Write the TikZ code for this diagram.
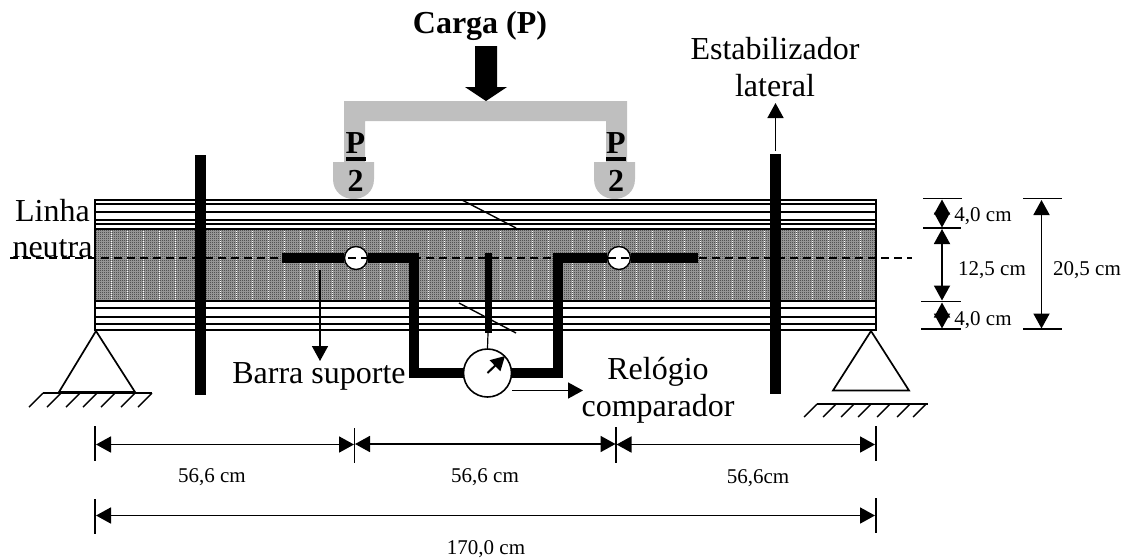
\documentclass[tikz,border=0pt]{standalone}
\usepackage{fontspec}
\setmainfont{Liberation Serif}
\usetikzlibrary{arrows.meta,patterns}
\pgfdeclarepatternformonly{checker}{\pgfqpoint{0pt}{0pt}}{\pgfqpoint{2pt}{2pt}}{\pgfqpoint{2pt}{2pt}}{%
  \pgfpathrectangle{\pgfqpoint{0pt}{0pt}}{\pgfqpoint{1pt}{1pt}}%
  \pgfpathrectangle{\pgfqpoint{1pt}{1pt}}{\pgfqpoint{1pt}{1pt}}%
  \pgfusepath{fill}}
\definecolor{loadgray}{gray}{0.75}
\tikzset{
  big/.style={font=\fontsize{32}{32}\selectfont,inner sep=0pt,anchor=base},
  small/.style={font=\fontsize{21}{21}\selectfont,inner sep=0pt,anchor=base},
  boldlab/.style={font=\fontsize{32}{32}\selectfont\bfseries,inner sep=0pt,anchor=base},
  barline/.style={line width=10.5pt,black,miter limit=10},
  beamline/.style={line width=2pt},
  layerline/.style={line width=1.3pt},
  thinline/.style={line width=1.4pt},
  dimline/.style={line width=1.8pt,{Triangle[length=15pt,width=16pt]}-{Triangle[length=15pt,width=16pt]}},
  arrowline/.style={line width=1.6pt,-{Triangle[length=15pt,width=16pt]}},
  ticks/.style={line width=1.5pt},
  hatchline/.style={line width=1.4pt},
  pivot/.style={circle,draw=black,fill=white,line width=1.4pt,minimum size=23pt,inner sep=0pt},
  loadfill/.style={fill=loadgray,draw=none}
}
\begin{document}
\begin{tikzpicture}[x=1pt,y=-1pt]
\useasboundingbox (0,0) rectangle (1129,558);
% load frame
\fill[loadfill] (344,101) -- (627,101) -- (627,162) -- (606,162) -- (606,121) -- (365,121) -- (365,162) -- (344,162) -- cycle;
\fill[loadfill] (333,162) -- (374,162) -- (374,179) .. controls (374,192) and (364,199) .. (353.5,199) .. controls (343,199) and (333,192) .. (333,179) -- cycle;
\fill[loadfill] (594,162) -- (635,162) -- (635,179) .. controls (635,192) and (625,199) .. (614.5,199) .. controls (604,199) and (594,192) .. (594,179) -- cycle;
\fill (475,46) -- (497,46) -- (497,87) -- (507,87) -- (486,101) -- (465,87) -- (475,87) -- cycle;
\node[boldlab] (carga) at (480,33) {Carga (P)};
\node[boldlab] (p1) at (355.5,153) {P};
\node[boldlab] (d1) at (355.5,191) {2};
\node[boldlab] (p2) at (616,153) {P};
\node[boldlab] (d2) at (616,191) {2};
\fill (346,157) rectangle (366,161);
\fill (606,157) rectangle (626,161);
% beam
\fill[white] (95,200) rectangle (876,330);
\foreach \y in {204,212,220,224,308,317,324}
  \draw[layerline] (95,\y) -- (876,\y);
\fill[gray!70] (95,229) rectangle (876,301);
\fill[pattern=checker,pattern color=black!85] (95,229) rectangle (876,301);
\foreach \x in {111,127,143,159,175,220,236,252,268,284,300,316,332,348,364,380,396,428,444,460,476,500,516,532,548,572,588,604,620,636,652,668,684,700,716,732,748,764,796,812,828,844,860}
  \draw[white,line width=1pt,dash pattern=on 1pt off 1pt] (\x,229) -- (\x,301);
\draw[beamline] (95,229) -- (876,229);
\draw[beamline] (95,301) -- (876,301);
\draw[beamline] (95,200) rectangle (876,330);
\draw[thinline] (462,200) -- (516,228);
% vertical stabilisers
\coordinate (sl1) at (200.5,155); \coordinate (sl2) at (200.5,395);
\coordinate (sr1) at (775.5,154); \coordinate (sr2) at (775.5,394);
\draw[barline] (sl1) -- (sl2);
\draw[barline] (sr1) -- (sr2);
% gauge and pivots
\node[pivot] (pl) at (356,258) {};
\node[pivot] (pr) at (619,258) {};
\node[circle,draw=black,fill=white,line width=1.6pt,minimum size=48pt,inner sep=0pt] (gauge) at (487.5,373) {};
% support bar
\coordinate (bl) at (282,258); \coordinate (cl) at (414,258); \coordinate (dl) at (414,373);
\coordinate (br) at (698,258); \coordinate (cr) at (558,258); \coordinate (dr) at (558,373);
\draw[barline] (bl) -- (pl.west);
\draw[barline] (pl.east) -- (cl) -- (dl) -- (gauge.west);
\draw[barline] (br) -- (pr.east);
\draw[barline] (pr.west) -- (cr) -- (dr) -- (gauge.east);
% centre rod
\coordinate (rt) at (488,253); \coordinate (rb) at (488,333);
\draw[line width=7pt] (rt) -- (rb);
\draw[line width=1.2pt] (rb) -- (gauge.north);
\draw[thinline] (459,303) -- (516,333);
\draw[line width=2pt,-{Triangle[length=14pt,width=15pt]}] (gauge.center) -- (505,356);
% neutral line
\coordinate (n1) at (10,258); \coordinate (n2) at (912,258);
\draw[line width=1.2pt,dash pattern=on 8pt off 5pt] (n1) -- (n2);
% supports
\draw[line width=1.7pt] (96,331) -- (59,392) -- (135,392) -- cycle;
\draw[hatchline] (43,393) -- (152,393);
\foreach \x in {29,47,66,83,101,121,138}
  \draw[hatchline] (\x+14,393) -- (\x,407);
\draw[line width=1.7pt] (871,331) -- (833,390.5) -- (909,390.5) -- cycle;
\draw[hatchline] (817,404) -- (928,404);
\foreach \x in {804,823,841,858,877,897,913}
  \draw[hatchline] (\x+13,404) -- (\x,417);
% callouts
\coordinate (a1) at (320,270); \coordinate (a2) at (320,361);
\draw[arrowline] (a1) -- (a2);
\coordinate (a3) at (512,390.5); \coordinate (a4) at (583,390.5);
\draw[arrowline] (a3) -- (a4);
\coordinate (a5) at (775.5,151); \coordinate (a6) at (775.5,103);
\draw[arrowline] (a5) -- (a6);
% labels
\node[big] (l1) at (52.5,221) {Linha};
\node[big] (l2) at (52.5,257) {neutra};
\node[big] (l3) at (319,383) {Barra suporte};
\node[big] (l4) at (658,379) {Relógio};
\node[big] (l5) at (658,416) {comparador};
\node[big] (l6) at (775,59) {Estabilizador};
\node[big] (l7) at (775,96) {lateral};
% right dims
\draw[ticks] (923,198.5) -- (962,198.5);
\draw[ticks] (923,228) -- (961,228);
\draw[ticks] (921,301.5) -- (961,301.5);
\draw[ticks] (921,329) -- (961,329);
\draw[ticks] (1023,198.5) -- (1062,198.5);
\draw[ticks] (1023,329) -- (1062,329);
\coordinate (v1) at (942,199.5); \coordinate (v2) at (942,227.5);
\coordinate (v3) at (942,229); \coordinate (v4) at (942,300.5);
\coordinate (v5) at (942,302.5); \coordinate (v6) at (942,328.5);
\coordinate (v7) at (1041.5,200); \coordinate (v8) at (1041.5,328.5);
\draw[dimline] (v1) -- (v2);
\draw[dimline] (v3) -- (v4);
\draw[dimline] (v5) -- (v6);
\draw[dimline] (v7) -- (v8);
\node[small] (t1) at (983,221) {4,0 cm};
\node[small] (t2) at (992,275) {12,5 cm};
\node[small] (t3) at (1087,275) {20,5 cm};
\node[small] (t4) at (983,325) {4,0 cm};
% bottom dims
\draw[ticks] (95,426) -- (95,461);
\draw[ticks] (354.5,428) -- (354.5,463);
\draw[ticks] (616,427) -- (616,463);
\draw[ticks] (876,426) -- (876,461);
\draw[ticks] (95,499) -- (95,534);
\draw[ticks] (876,498) -- (876,533);
\coordinate (h1) at (96,444.5); \coordinate (h2) at (354,444.5);
\coordinate (h3) at (355,444); \coordinate (h4) at (615.5,444);
\coordinate (h5) at (616.5,444.5); \coordinate (h6) at (875,444.5);
\coordinate (h7) at (96,515.5); \coordinate (h8) at (875,515.5);
\draw[dimline] (h1) -- (h2);
\draw[dimline] (h3) -- (h4);
\draw[dimline] (h5) -- (h6);
\draw[dimline] (h7) -- (h8);
\node[small] (t5) at (212,482) {56,6 cm};
\node[small] (t6) at (485,482) {56,6 cm};
\node[small] (t7) at (758,483) {56,6cm};
\node[small] (t8) at (486,554) {170,0 cm};
\end{tikzpicture}
\end{document}
